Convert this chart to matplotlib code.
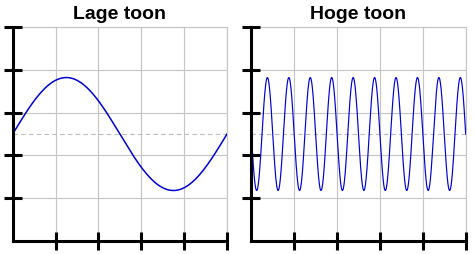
import numpy as np
import matplotlib
matplotlib.use("Agg")
import matplotlib.pyplot as plt

# two tones: one slow period vs ten fast ones across the same window
titles = ["Lage toon", "Hoge toon"]
periods = [1, 10]
phase_sign = [1, -1]
line_widths = [1.1, 0.85]
amplitude = 1.32
baseline = 2.5
ticks = [1, 2, 3, 4, 5]

plt.rcParams['font.family'] = ['Liberation Sans', 'DejaVu Sans']

fig = plt.figure(figsize=(4.74, 2.55), dpi=100)
positions = [[0.0268, 0.051, 0.4521, 0.839],
             [0.5302, 0.051, 0.4523, 0.839]]

for pos, title, n, sgn, lw in zip(positions, titles, periods, phase_sign, line_widths):
    ax = fig.add_axes(pos)
    t = np.linspace(0, 5, 2000)
    y = baseline + sgn * amplitude * np.sin(2 * np.pi * n * t / 5)
    ax.plot(t, y, color='#0000cc', lw=lw, zorder=3)
    ax.axhline(baseline, color='#bbbbbb', ls=(0, (4, 3)), lw=0.8, zorder=2)

    ax.set_xlim(0, 5)
    ax.set_ylim(0, 5)
    ax.set_xticks(ticks)
    ax.set_yticks(ticks)
    ax.set_xticklabels([])
    ax.set_yticklabels([])
    ax.grid(True, color='#c4c4c4', lw=0.8)
    ax.set_axisbelow(True)

    for side in ['left', 'bottom']:
        ax.spines[side].set_linewidth(2.2)
        ax.spines[side].set_color('black')
        ax.spines[side].set_zorder(4)
    for side in ['top', 'right']:
        ax.spines[side].set_linewidth(0.8)
        ax.spines[side].set_color('#c4c4c4')
        ax.spines[side].set_zorder(0.2)
    ax.tick_params(direction='inout', length=13, width=2.2, color='black')

    ax.set_title(title, fontsize=14, fontweight='bold', pad=6.5)

fig.savefig("out.png", dpi=100)
